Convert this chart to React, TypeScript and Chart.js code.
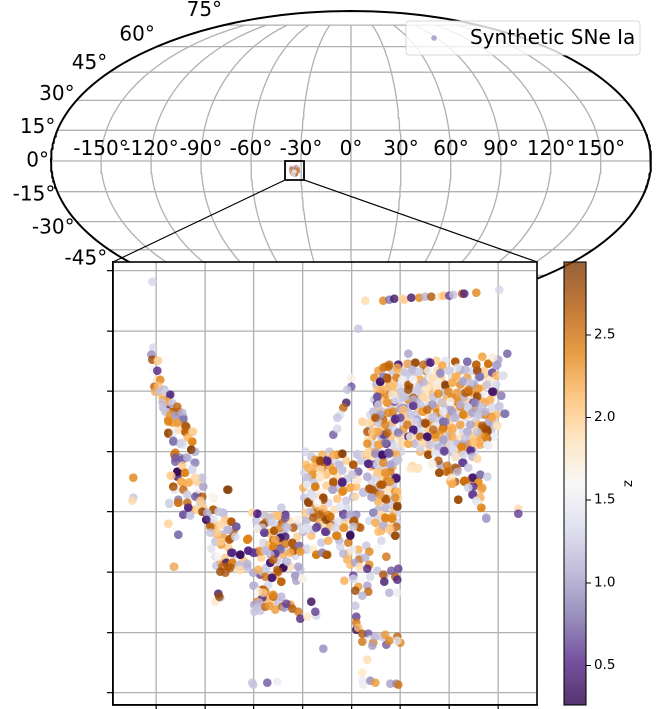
import React, { useEffect, useRef } from "react";
import { Chart, registerables } from "chart.js";
Chart.register(...registerables);

type P = [number, number, number];

const lonTicks = [-150, -120, -90, -60, -30, 0, 30, 60, 90, 120, 150];
const latTicks = [-75, -60, -45, -30, -15, 0, 15, 30, 45, 60, 75];
const zTicks = [0.5, 1.0, 1.5, 2.0, 2.5];
const raTicks = [0, 48.8, 97.6, 146.4, 195.2, 244, 292.8, 341.6];
const decTicks = [0, 60.3, 120.6, 180.9, 241.2, 301.5, 361.8, 422.1];
const puOrStops = ["#2d004b", "#542788", "#8073ac", "#b2abd2", "#d8daeb", "#f7f7f7", "#fee0b6", "#fdb863", "#e08214", "#b35806", "#7f3b08"];
const zRange = [0.262, 2.94];

const blockUnder: P[] = [
[222,322,2.3],[236,322,1.2],[247,322,2.0],[258,322,1.3],[269,322,2.5],[281,322,1.9],[293,322,1.1],[304,322,2.2],[316,322,1.3],[328,322,2.0],
[218,315,2.4],[229,315,1.3],[243,315,1.9],[255,315,1.1],[262,315,2.1],[272,315,1.2],[285,315,2.0],[296,315,1.4],[311,315,2.3],[322,315,1.2],[333,315,2.1],
[220,308,1.1],[233,308,2.2],[241,308,1.3],[250,308,1.9],[263,308,1.2],[274,308,2.0],[284,308,1.3],[293,308,1.8],[304,308,2.4],[318,308,1.1],[330,308,2.0],[340,308,1.3],
[224,300,2.5],[234,300,1.1],[241,300,2.0],[256,300,1.3],[265,300,1.1],[276,300,2.1],[287,300,1.2],[296,300,1.9],[305,300,1.3],[316,300,2.3],[326,300,1.1],[338,300,2.0],
[218,293,1.2],[226,293,2.1],[243,293,1.3],[252,293,2.4],[261,293,1.1],[272,293,1.9],[281,293,1.3],[290,293,2.2],[299,293,1.1],[310,293,2.0],[318,293,1.3],[334,293,2.2],
[222,285,2.2],[235,285,1.2],[242,285,1.9],[252,285,1.1],[261,285,2.1],[270,285,1.3],[279,285,2.3],[289,285,1.2],[298,285,2.0],[306,285,1.1],[318,285,2.4],[336,285,1.3],
[214,278,1.3],[226,278,2.4],[236,278,1.1],[249,278,2.0],[259,278,1.2],[272,278,1.9],[284,278,1.1],[293,278,2.3],[302,278,1.3],[312,278,2.0],[325,278,1.2],[340,278,2.1],
[216,270,2.1],[226,270,1.2],[236,270,2.2],[247,270,1.3],[256,270,2.0],[264,270,1.1],[275,270,2.4],[283,270,1.2],[293,270,1.9],[309,270,1.3],[320,270,2.2],[337,270,1.2],
[213,263,1.1],[225,263,2.0],[238,263,1.3],[247,263,2.3],[262,263,1.2],[272,263,2.0],[282,263,1.1],[292,263,2.1],[304,263,1.3],[316,263,1.9],[325,263,2.4],[335,263,1.2],
[216,256,2.3],[225,256,1.1],[235,256,2.1],[245,256,1.2],[258,256,2.0],[266,256,1.3],[284,256,2.2],[292,256,1.1],[303,256,1.9],[313,256,1.2],[322,256,2.3],[338,256,1.5],
[216,249,1.3],[226,249,2.2],[236,249,1.2],[245,249,1.9],[258,249,1.1],[271,249,2.1],[281,249,1.3],[291,249,2.0],[300,249,1.1],[311,249,2.4],[328,249,1.2],
[214,241,2.1],[222,241,1.2],[238,241,2.3],[245,241,1.3],[273,241,2.0],[296,241,1.1],[305,241,2.2],[318,241,1.3]
];
const centralUnder: P[] = [
[155,236,1.2],[166,238,2.2],[178,232,1.3],[190,232,2.0],[205,232,1.2],[216,235,1.9],[228,236,1.1],[240,238,2.2],
[150,228,2.1],[162,228,1.2],[174,226,2.3],[183,228,1.1],[215,226,2.1],[225,224,1.2],[236,226,2.3],
[148,220,1.3],[158,212,1.2],[170,218,2.1],[181,216,1.9],[191,214,1.2],[215,212,1.3],[226,215,2.0],[237,208,1.2],
[147,205,2.2],[155,200,1.3],[170,207,2.0],[181,205,1.2],[200,206,2.1],[220,205,1.2],[232,203,1.9],[240,194,1.3],
[148,195,1.2],[160,185,2.3],[172,190,1.3],[181,194,2.1],[190,192,1.2],[222,191,2.2],[235,188,1.2],
[149,180,2.0],[161,175,1.2],[178,183,1.9],[190,185,1.3],[222,183,1.1],[238,181,2.1],
[150,172,1.1],[163,170,2.2],[176,170,1.2],[188,171,2.0],[213,172,1.3],[232,170,1.9],
[155,157,2.1],[165,150,1.2],[172,152,2.2],[183,152,1.1],[192,140,2.0],[202,143,2.2],[210,147,1.2],[225,152,1.3],[236,160,1.2]
];
const valleyUnder: P[] = [
[100,172,1.2],[110,176,2.1],[120,168,1.3],[133,172,1.9],[141,168,1.2],[112,160,2.2],[127,160,1.1],[141,156,2.0],
[107,150,1.3],[113,148,2.1],[130,142,1.2],[139,137,1.3],[105,135,2.0],[121,132,1.2],[134,126,1.9],[110,125,1.2],[120,118,2.2],[112,108,1.3],
[52,178,1.3],[57,165,2.2],[66,158,1.1],[72,145,2.0],[78,138,1.2],[87,132,2.1],[64,130,2.3],[60,127,1.2],
[110,95,2.2],[104,82,1.2],[117,91,2.0],[122,90,1.2],[134,88,2.3]
];
const northTail: P[] = [
[-4,411,1.3],[-3,345,1.3],[-5,338,.9],[-4,333,2.8],[1,332,2.3],[2,332,1.9],[-4,323,1.6],[1,322,.5],[1,313,1.8],[4,313,2.4],[-2,306,2.6],[2,307,2.1],[-1,301,2.2],[3,301,1.2],[8,303,1.1],[13,298,.7],[7,293,2.7],[6,296,2.1],[11,291,2.4],[16,290,1.3],[7,285,1.1],[14,284,.4],[16,282,2.5],[10,281,1.2],[21,278,1.0],[22,281,2.7],[27,275,.8],[12,273,2.4],[16,270,2.3],[21,270,2.1],[30,266,2.8],[29,261,2.7],[37,261,1.9],[22,263,1.9],[12,259,2.8],[16,259,1.5],[31,256,2.1],[36,251,2.4],[17,252,.8],[24,249,1.2],[27,248,1.4],[35,243,2.9],[38,241,1.2],[18,238,2.6],[19,236,2.2],[30,235,1.0],[38,230,1.0],[19,231,.7],[24,235,.9],[26,227,1.7],[21,221,.3],[28,220,2.5],[36,225,1.5],[14,217,1.9],[39,215,1.9],[46,215,1.2],[21,216,.4],[25,211,2.2],[-23,215,2.4],[34,211,2.0],[42,210,2.0]
];
const northTailFill: P[] = [
[9,301,1.3],[14,298,.5],[11,291,2.2],[6,290,1.2],[16,289,1.2],[9,281,1.2],[21,286,2.6],[14,278,2.3],[12,271,2.4],[19,277,1.0],[26,280,1.1],[27,273,.8],[29,267,2.7],[29,261,2.6],[21,270,2.3],[36,261,2.0],[12,260,2.8],[17,251,.8],[25,250,1.3],[32,255,2.1],[36,251,2.4],[39,241,1.1],[35,243,2.9],[19,240,2.5],[19,235,.7],[26,233,.7],[31,235,1.1],[39,230,.9],[21,221,.3],[15,217,2.0],[26,227,2.0],[29,220,2.4],[36,223,1.3],[46,215,1.2],[39,215,1.9],[25,211,2.2],[32,210,2.2],[17,206,2.7],[27,203,2.6],[41,203,1.6],[47,206,1.0],[13,190,1.3],[22,190,2.5],[31,198,1.3],[39,196,.7],[44,192,2.0],[56,196,1.6],[72,203,2.9],[31,190,2.6],[32,185,.5],[41,183,1.9],[46,181,2.8],[27,178,.7],[34,177,1.2],[57,183,2.7],[51,180,1.1],[62,181,1.2],[50,173,.4],[12,169,1.9],[22,158,.8],[67,179,1.2],[54,166,2.6],[69,172,2.0],[75,171,2.7],[80,166,.7],[72,163,1.1],[73,153,2.7],[64,168,1.9],[61,160,2.0],[59,151,1.2],[91,153,2.4],[54,160,1.2],[79,156,1.3],[64,151,2.0]
];
const southValley: P[] = [
[-23,195,1.2],[-24,192,1.9],[13,189,1.2],[22,190,2.5],[17,206,2.7],[26,210,2.1],[18,203,1.4],[31,198,1.2],[41,198,.7],[46,196,2.7],[57,195,1.8],[71,203,2.9],[22,193,.8],[27,178,.7],[33,178,1.2],[32,185,.5],[39,183,2.2],[44,190,1.2],[47,185,2.0],[46,181,2.6],[57,183,2.6],[63,181,1.5],[67,180,1.1],[50,173,.3],[54,168,2.6],[59,168,2.1],[52,175,1.3],[57,173,1.4],[69,173,2.0],[75,171,2.7],[65,168,1.9],[80,166,.7],[77,161,2.7],[71,163,1.2],[60,158,2.1],[62,153,2.2],[67,155,2.2],[59,151,1.5],[74,154,2.7],[65,148,2.3],[92,154,2.5],[12,169,2.0],[22,158,.8],[55,144,1.4],[59,136,1.4],[62,136,1.6],[69,135,2.0],[75,140,.4],[84,138,.4],[92,142,.6],[97,140,.5],[70,130,.3],[66,126,2.6],[72,126,2.7],[64,121,2.8],[69,120,2.7],[76,130,2.5],[82,127,1.1],[84,123,2.0],[91,126,1.1],[17,126,1.3],[18,126,2.2]
];
const southBridge: P[] = [
[97,120,1.0],[96,180,1.9],[101,179,.4],[109,170,2.6],[102,164,2.0],[108,160,.7],[107,178,1.2],[114,171,1.1],[117,176,2.1],[122,177,2.0],[129,178,.5],[118,162,2.7],[126,170,2.7],[117,153,2.6],[124,155,.4],[129,156,.4],[122,150,2.4],[136,150,2.8],[143,147,.7],[137,142,2.8],[144,143,2.3],[150,143,1.2],[109,142,.9],[103,142,2.3],[117,145,2.5],[119,139,.5],[124,144,.6],[127,138,2.2],[130,131,1.0],[114,130,.5],[107,121,1.2],[104,118,.6],[127,125,.4],[121,123,2.7],[144,123,1.2],[139,117,1.0],[115,115,.5],[125,111,2.7],[140,112,1.0],[146,114,1.6],[98,107,1.1],[107,103,2.7],[104,100,2.0],[109,101,2.5],[125,96,1.1],[117,96,2.6],[106,95,.5],[101,91,2.4],[98,88,1.0],[103,90,1.1],[101,85,1.2],[98,81,1.2],[109,86,2.6],[113,87,2.3],[119,83,2.3],[126,86,2.6],[128,85,1.0],[130,89,.6],[136,84,2.7],[142,81,2.5],[144,74,.5],[151,76,1.8],[160,77,1.3],[155,91,.3],[159,81,.6],[59,91,1.8],[64,95,1.2],[62,99,.4],[63,96,2.8],[167,44,.9],[96,10,1.2],[97,8,1.2],[111,10,.7],[121,11,1.5]
];
const bridgeFill: P[] = [
[96,180,1.9],[101,179,.5],[107,168,2.8],[106,165,1.2],[101,164,1.5],[108,160,.6],[114,175,1.2],[116,170,1.3],[122,177,2.1],[125,185,1.2],[129,175,.7],[142,173,1.7],[118,162,2.7],[124,165,2.4],[129,166,1.1],[137,165,2.7],[131,165,1.2],[147,161,1.1],[150,165,1.3],[91,153,2.4],[124,155,.4],[119,153,2.2],[117,146,2.4],[129,149,2.5],[136,149,2.7],[142,146,.8],[137,142,2.7],[150,144,1.3],[124,143,.8],[119,139,.6],[76,140,.5],[84,138,.3],[92,142,.5],[99,140,.6],[104,141,2.3],[109,142,1.2],[114,138,1.1],[134,140,2.2],[144,141,2.3],[157,143,1.8],[160,138,2.5],[166,140,.9],[170,138,2.7],[76,130,2.4],[74,125,2.7],[83,128,1.2],[83,123,1.9],[91,129,1.1],[97,120,1.1],[106,121,1.3],[114,130,.4],[117,133,2.6],[109,116,2.5],[116,115,.4],[127,125,.3],[131,131,1.2],[122,121,2.7],[139,117,1.0],[142,126,1.0],[146,114,1.7],[102,123,2.2],[125,111,2.6],[97,107,1.1],[106,103,2.6],[102,101,1.6],[117,98,2.4],[107,100,2.0]
];
const centralWest: P[] = [
[151,210,1.2],[159,206,2.7],[164,200,1.7],[152,191,2.7],[157,180,2.6],[166,180,2.8],[161,166,.7],[170,161,.6],[147,163,1.3],[157,163,1.2],[152,145,1.6],[160,138,2.4],[166,140,.9],[171,138,2.7],[154,190,2.5],[167,193,2.8],[171,178,2.4],[162,196,1.8],[174,166,2.0],[149,241,1.3],[161,232,2.5],[164,232,2.8],[171,233,.5],[156,218,2.4],[152,215,1.2],[164,216,1.9],[159,225,2.4],[152,225,2.2],[166,225,2.5],[173,241,1.2],[174,236,1.9],[177,222,2.4],[186,222,1.2],[195,220,1.7],[202,221,.7],[211,216,1.1],[171,231,.5],[166,231,2.6],[186,211,.4],[177,211,2.6],[201,213,2.0],[186,210,.5],[194,205,2.2],[186,201,2.4],[177,203,1.1],[207,200,1.1],[213,204,2.8],[225,208,2.7],[232,211,.8],[239,201,2.4],[224,200,1.2],[229,194,2.7],[215,196,1.0],[197,196,1.1],[167,195,2.7]
];
const centralFill: P[] = [
[159,233,2.3],[164,232,2.8],[171,232,.5],[177,238,2.2],[186,239,2.9],[197,228,2.7],[201,238,1.2],[211,240,1.9],[219,239,.9],[226,238,.4],[232,240,.7],[239,231,1.1],[212,229,.5],[221,228,1.3],[227,230,2.4],[234,228,1.0],[242,233,1.2],[157,226,2.1],[156,218,2.3],[164,223,1.9],[151,215,1.2],[177,222,2.3],[186,223,1.2],[201,213,1.7],[196,218,1.2],[211,216,1.1],[221,220,2.0],[229,220,2.3],[240,214,.4],[234,211,2.3],[226,208,2.7],[151,208,1.5],[159,206,2.4],[164,215,1.8],[177,210,2.7],[186,210,.5],[176,203,1.0],[187,202,2.4],[194,205,2.2],[207,201,1.2],[213,204,2.7],[219,200,2.7],[216,195,1.1],[241,201,2.1],[224,198,2.3],[199,196,1.9],[167,195,2.8],[152,190,2.9],[157,196,1.4],[161,190,1.6],[230,193,2.7],[239,195,2.4],[184,186,1.5],[187,178,.7],[167,184,2.1],[154,181,1.2],[157,175,2.7],[170,173,2.9],[164,178,2.6],[174,176,2.5],[194,178,1.1],[198,172,2.7],[217,180,.9],[221,173,1.3],[229,175,2.4],[236,174,2.4],[241,186,2.9],[229,185,1.1],[160,165,.6],[169,161,.6],[179,165,1.3],[188,165,2.3],[194,157,.3],[181,157,2.4],[204,165,2.7],[197,166,1.2],[227,167,1.1],[219,170,2.2],[233,163,2.0],[239,157,2.8],[222,161,2.1],[151,165,1.4],[146,163,1.4]
];
const centralEast: P[] = [
[184,186,1.3],[167,185,1.7],[174,176,2.5],[187,179,.5],[194,178,1.0],[200,178,.9],[217,180,.8],[226,178,1.9],[229,174,2.3],[236,174,2.4],[221,169,2.0],[227,167,1.1],[241,170,1.3],[240,166,2.6],[225,162,2.2],[234,164,2.2],[239,157,2.8],[169,173,2.7],[167,168,1.9],[174,168,2.6],[169,161,.6],[180,157,2.6],[187,165,2.4],[194,158,.4],[197,171,2.7],[202,166,2.4],[182,171,1.4],[189,176,1.2],[184,146,1.3],[192,150,2.5],[196,143,1.5],[187,139,1.1],[170,138,2.6],[221,144,1.6],[213,141,2.4],[203,136,1.3],[230,136,2.5],[191,133,2.2],[203,133,2.5],[209,135,1.1],[194,128,2.1],[199,130,1.0],[213,128,2.4],[203,126,1.9],[211,124,.5],[197,117,.6],[221,122,1.2],[229,118,1.2],[235,122,.7],[242,124,.6],[227,118,2.7],[239,116,2.7],[241,113,.5],[228,111,.4],[188,112,2.2],[205,115,1.6],[214,116,1.3],[197,114,1.3],[202,106,2.3],[211,107,1.0],[199,102,2.8],[212,101,2.6],[206,97,1.1],[233,100,1.1],[241,100,1.5],[199,87,1.2],[200,76,.6],[200,70,2.5],[200,63,.3],[202,65,2.1],[206,59,2.7],[206,51,2.5],[212,59,.7],[214,53,1.5],[217,50,2.4],[216,47,1.0],[219,56,1.1],[226,56,1.2],[229,58,2.3],[230,48,.7],[233,52,2.4],[241,56,2.6],[244,50,2.4],[241,52,1.4],[211,33,1.9],[206,20,1.8],[206,12,1.5],[207,8,1.5],[214,12,.9],[219,10,2.3],[234,9,1.0],[240,9,.9],[242,8,2.5]
];
const northStripe: P[] = [
[209,392,1.9],[227,392,2.4],[233,393,.8],[238,394,.4],[246,394,1.9],[248,393,2.0],[255,395,.4],[263,395,2.4],[269,396,1.1],[275,396,2.7],[283,396,1.8],[287,397,2.1],[293,397,.6],[297,398,1.2],[306,399,2.7],[308,399,.5],[320,400,2.4],[343,403,1.3],[202,364,1.2]
];
const blockTop: P[] = [
[252,339,1.0],[351,339,.7],[326,336,2.2],[336,335,1.7],[342,333,1.0],[332,329,2.6],[340,327,1.0],[227,325,2.5],[232,326,2.6],[242,328,.5],[252,329,1.0],[259,330,2.8],[272,331,1.0],[274,330,.4],[280,332,2.0],[289,332,1.4],[299,331,2.7],[311,331,.7],[320,328,2.6],[286,327,2.1],[267,328,2.6],[247,321,1.3],[241,323,2.1],[262,321,1.2],[284,319,1.0],[304,323,1.1],[321,322,.6],[336,320,.7],[347,317,1.3],[340,317,2.2],[323,316,.8],[334,313,1.7],[195,315,1.7],[227,316,.4],[231,314,2.7],[240,315,2.5],[246,312,1.6],[253,316,1.3],[264,313,2.2],[274,315,1.7],[299,316,2.1],[307,312,1.2],[224,311,.3],[253,307,2.8],[279,310,1.7],[289,307,2.9],[296,310,2.2],[316,308,1.0],[325,304,2.1],[195,306,.7],[191,303,1.2],[336,301,.3],[345,297,.9],[221,303,2.1],[236,305,2.1],[244,305,1.4],[261,303,1.6],[271,305,1.8],[281,301,1.8],[289,301,1.2],[301,300,2.3],[312,301,2.7],[321,297,2.7],[327,298,1.6]
];
const blockTopFill: P[] = [
[229,326,2.5],[233,328,2.6],[242,328,.5],[251,329,2.2],[259,330,2.8],[274,330,.5],[286,327,2.2],[299,331,2.7],[311,331,.8],[320,328,2.6],[332,329,2.5],[326,336,2.2],[337,335,1.7],[341,328,1.0],
[227,316,1.0],[241,325,2.2],[249,320,1.2],[256,323,1.1],[263,321,1.3],[272,322,1.5],[284,320,.9],[292,322,1.3],[301,325,1.4],[309,323,1.1],[321,322,2.7],[324,316,.8],[336,320,.7],[340,317,2.1],[346,317,1.4],
[224,311,.4],[231,315,2.7],[237,308,2.1],[246,313,1.5],[252,308,2.7],[257,313,1.6],[267,310,1.1],[277,315,1.9],[282,310,1.7],[289,308,2.9],[300,316,2.2],[296,310,2.2],[307,311,1.0],[314,310,1.2],[322,304,2.3],[331,308,1.2],[337,301,.4],
[221,296,.7],[227,303,2.2],[236,298,1.8],[245,301,1.2],[252,303,2.8],[261,303,1.2],[269,303,1.8],[281,305,1.8],[282,299,2.4],[292,301,2.4],[301,293,2.3],[309,300,2.7],[312,303,2.5],[321,296,2.8],[345,297,.9],[329,290,2.2],[319,290,.9],[343,286,1.2],[348,279,.8]
];
const blockMiddle: P[] = [
[221,296,.6],[230,298,2.4],[238,291,.7],[249,296,1.2],[257,295,2.7],[267,296,2.0],[277,296,1.2],[296,295,2.4],[307,295,1.1],[317,290,.6],[327,291,2.2],[343,287,1.3],[190,290,.4],[187,285,2.6],[221,289,.4],[231,290,2.3],[247,285,.9],[257,287,.6],[264,288,1.2],[276,288,1.0],[286,290,2.5],[301,291,2.5],[311,286,1.2],[322,284,1.1],[349,279,.8],[184,278,1.4],[217,281,1.2],[227,281,1.2],[237,281,2.4],[244,284,1.0],[267,281,2.2],[281,280,2.4],[294,283,1.0],[304,286,2.4],[307,278,2.4],[329,278,2.4],[335,276,2.4],[206,271,2.0],[212,270,1.9],[220,275,2.7],[227,273,2.6],[239,274,.5],[250,275,2.0],[261,273,1.0],[276,275,1.2],[287,271,.7],[297,275,1.2],[319,275,1.3],[332,270,1.0],[341,267,2.0],[181,275,1.2],[177,258,.7],[181,264,1.3],[211,261,2.7],[222,270,1.2],[232,266,1.2],[242,260,.7],[257,263,.4],[269,270,2.7],[279,264,1.4],[287,265,2.7],[296,265,2.2],[307,268,1.6],[311,261,1.1],[327,265,2.8],[331,262,2.7]
];
const blockMiddleFill: P[] = [
[222,288,1.3],[231,290,2.3],[239,293,1.4],[247,295,1.2],[257,293,1.1],[257,287,.6],[267,296,1.9],[276,288,1.0],[286,290,1.3],[294,291,1.6],[304,288,1.1],[312,285,1.3],[326,286,1.2],[329,281,1.1],
[217,281,1.2],[224,278,1.0],[232,280,2.4],[239,273,.5],[247,283,2.1],[254,278,1.2],[266,281,2.3],[271,283,2.6],[277,276,1.2],[287,281,1.5],[296,281,1.0],[307,278,2.4],[316,280,1.0],[322,278,1.2],[336,275,2.2],
[219,275,2.7],[229,268,2.4],[244,275,.6],[251,268,2.5],[259,271,1.3],[269,269,2.8],[279,267,1.5],[289,271,.8],[299,275,1.1],[304,268,2.3],[314,268,1.0],[326,267,2.7],[331,263,2.8],[341,267,1.8],[321,261,1.2],
[216,261,2.0],[222,261,2.2],[231,260,2.6],[242,260,.9],[257,263,.5],[271,256,.4],[286,263,2.4],[296,263,2.2],[311,261,1.1],[329,256,2.4],[254,256,1.7],[277,263,2.6]
];
const blockLower: P[] = [
[212,254,1.9],[229,258,.7],[221,260,1.1],[252,256,.4],[264,261,1.4],[271,255,.5],[279,255,2.2],[287,251,1.1],[299,260,1.6],[317,256,2.0],[331,254,2.7],[321,248,1.9],[307,249,1.0],[211,249,2.4],[222,248,2.4],[230,249,.4],[252,249,2.2],[266,250,1.9],[306,245,2.4],[315,243,.7],[323,250,2.2],[332,247,1.5],[201,239,1.3],[210,238,2.1],[219,241,1.0],[226,237,.4],[233,239,.7],[272,238,2.7],[281,241,1.2],[288,241,.8],[299,236,1.2],[321,234,1.9],[186,239,2.8],[181,238,2.4],[197,228,2.7],[212,229,.5],[222,231,1.2],[237,230,1.3],[264,241,2.2],[284,228,1.0],[307,230,.6],[256,226,1.9],[261,224,1.9],[276,229,2.1],[222,220,2.1],[229,220,2.4],[240,215,.4],[283,220,2.7],[290,221,2.6],[301,223,2.5],[317,215,.4],[324,218,.8],[308,212,2.5],[299,211,2.7],[312,210,2.4],[322,211,2.5],[331,216,1.2],[294,211,2.2],[296,209,2.2],[308,211,2.7],[322,210,2.4],[325,203,2.2],[312,205,1.3],[317,198,.5],[302,193,2.7],[320,192,1.5],[325,185,2.3],[330,174,1.0],[362,184,1.9],[362,179,.6],[241,186,2.8],[241,180,1.3]
];
const blockLowerFill: P[] = [
[219,261,2.3],[227,258,.6],[222,248,2.2],[229,250,.8],[218,240,2.1],[226,238,.4],[232,240,.8],[239,246,1.4],[244,255,1.9],[252,249,2.2],[257,262,.5],[264,256,2.6],[271,256,.4],[267,250,1.9],[274,248,1.2],[264,244,1.3],[279,258,2.4],[287,253,1.0],[296,256,2.2],[282,245,1.1],[288,242,.6],[272,238,2.8],[279,239,1.5],[294,248,1.3],[305,246,2.4],[297,243,1.4],[314,242,.5],[309,255,1.2],[324,248,2.2],[331,261,2.9],[331,248,1.5],[317,250,2.1],
[307,238,1.3],[316,236,1.1],[321,234,1.9],[299,236,1.8],[282,232,2.7],[276,229,1.6],[291,227,2.5],[256,227,1.9],[254,224,1.8],[262,225,1.8],[306,230,.6],[299,225,2.8],[293,221,2.6],[283,220,2.8],[301,221,1.1],[312,225,1.2],[324,218,.8],[331,216,1.3],[316,215,.4],[309,212,2.5],[295,215,1.8],[296,209,2.2],[322,210,2.3],[326,205,2.3],[317,206,.5],[312,205,1.3],[316,198,.6],[324,195,2.2],[302,193,2.8],[320,192,1.4],[322,189,1.5],[325,185,2.4],[330,175,1.0],
[217,228,.7],[222,221,2.1],[229,226,1.3],[234,221,2.5],[239,215,.6],[224,208,2.6],[231,213,2.4],[216,203,2.7],[219,215,1.3],[239,201,2.3],[224,200,1.2],[230,194,2.7],[216,196,.9],[236,195,1.3],[241,187,2.7],[229,186,1.8],[236,176,2.3],[217,180,1.0],[224,178,1.9],[229,175,2.4],[242,195,1.9]
];

const allPoints: P[] = [...blockUnder, ...centralUnder, ...valleyUnder, ...blockTop, ...blockLower, ...centralEast, ...northTail, ...southBridge, ...blockMiddle, ...southValley, ...centralWest, ...northStripe, ...blockTopFill, ...northTailFill, ...blockLowerFill, ...bridgeFill, ...blockMiddleFill, ...centralFill];

// Scale of the sky map, in Mollweide units
const SQ2 = Math.SQRT2;
const skyXRange = [-3.3092, 3.0076];
const skyYRange = [-5.1664, 1.5179];
const blobCentre = [-0.53, -0.093];
const blobFactor = 0.000165;
const blobMiddle = [190, 210];
const zoomBox = { x0: -0.622, x1: -0.443, y0: -0.179, y1: 0 };
const insetEdges = { left: -2.244, right: 1.754, top: -0.952 };

function theta(latDeg: number) {
  const phi = (latDeg * Math.PI) / 180;
  if (Math.abs(latDeg) === 90) return phi;
  let t = phi;
  for (let i = 0; i < 60; i++) {
    t -= (2 * t + Math.sin(2 * t) - Math.PI * Math.sin(phi)) / (2 + 2 * Math.cos(2 * t));
  }
  return t;
}
function project(lonDeg: number, latDeg: number) {
  const t = theta(latDeg);
  return { x: ((2 * SQ2) / 180) * lonDeg * Math.cos(t), y: SQ2 * Math.sin(t) };
}
function puOr(z: number, alpha = 0.8) {
  const f = Math.max(0, Math.min(1, (z - zRange[0]) / (zRange[1] - zRange[0]))) * (puOrStops.length - 1);
  const i = Math.min(puOrStops.length - 2, Math.floor(f));
  const hex = (s: string, k: number) => parseInt(s.slice(1 + 2 * k, 3 + 2 * k), 16);
  const c = [0, 1, 2].map((k) => Math.round(hex(puOrStops[i], k) + (hex(puOrStops[i + 1], k) - hex(puOrStops[i], k)) * (f - i)));
  return `rgba(${c[0]},${c[1]},${c[2]},${alpha})`;
}
function steps(a: number, b: number, d: number) {
  const r: number[] = [];
  for (let v = a; v <= b; v += d) r.push(v);
  return r;
}
const FONT = "'DejaVu Sans'";
const GRID = "#b0b0b0";

function skyConfig(): any {
  const line = (data: any[], color: string, width: number, order: number) => ({
    data, showLine: true, borderColor: color, borderWidth: width, pointRadius: 0, order, tension: 0, fill: false,
  });
  const datasets: any[] = [];
  latTicks.forEach((lat) => datasets.push(line([project(-180, lat), project(180, lat)], GRID, 1.3, 6)));
  lonTicks.forEach((lon) => datasets.push(line(steps(-75, 75, 3).map((l) => project(lon, l)), GRID, 1.3, 6)));
  datasets.push(line(steps(-90, 90, 1).map((l) => project(-180, l)).concat(steps(-90, 90, 1).reverse().map((l) => project(180, l))), "#000", 2, 5));
  datasets.push({
    data: allPoints.map((p) => ({ x: blobCentre[0] + (p[0] - blobMiddle[0]) * blobFactor, y: blobCentre[1] + (p[1] - blobMiddle[1]) * blobFactor })),
    pointBackgroundColor: allPoints.map((p) => puOr(p[2])), pointBorderWidth: 0, pointRadius: 2.2, showLine: false, order: 4,
  });
  const b = zoomBox;
  datasets.push(line([{ x: b.x0, y: b.y0 }, { x: b.x1, y: b.y0 }, { x: b.x1, y: b.y1 }, { x: b.x0, y: b.y1 }, { x: b.x0, y: b.y0 }], "#000", 1.8, 3));
  datasets.push(line([{ x: b.x0, y: b.y0 }, { x: insetEdges.left, y: insetEdges.top }], "#000", 1.2, 2));
  datasets.push(line([{ x: b.x1, y: b.y0 }, { x: insetEdges.right, y: insetEdges.top }], "#000", 1.2, 2));
  const labels = {
    id: "skyLabels",
    afterDraw(chart: any) {
      const { ctx, scales } = chart;
      ctx.save();
      ctx.fillStyle = "#000";
      ctx.font = `20px ${FONT}`;
      ctx.textAlign = "center";
      ctx.textBaseline = "bottom";
      lonTicks.forEach((lon) => {
        const p = project(lon, 0);
        ctx.fillText(`${lon}°`, scales.x.getPixelForValue(p.x), scales.y.getPixelForValue(0) - 1);
      });
      ctx.textAlign = "right";
      ctx.textBaseline = "middle";
      latTicks.forEach((lat) => {
        const p = project(-180, lat);
        ctx.fillText(`${lat}°`, scales.x.getPixelForValue(p.x) - 2, scales.y.getPixelForValue(p.y) + 0.5 - 0.2 * lat);
      });
      // legend
      const lx = 406, ly = 21, lw = 234, lh = 34;
      ctx.beginPath();
      ctx.roundRect(lx, ly, lw, lh, 3);
      ctx.fillStyle = "rgba(255,255,255,0.8)";
      ctx.fill();
      ctx.strokeStyle = "rgba(204,204,204,0.8)";
      ctx.lineWidth = 1;
      ctx.stroke();
      ctx.beginPath();
      ctx.arc(434, 38, 2.8, 0, Math.PI * 2);
      ctx.fillStyle = puOr(0.95);
      ctx.fill();
      ctx.fillStyle = "#000";
      ctx.textAlign = "left";
      ctx.textBaseline = "middle";
      ctx.fillText("Synthetic SNe Ia", 470, 39);
      ctx.restore();
    },
  };
  const hiddenAxis = (range: number[]) => ({
    type: "linear", display: false, bounds: "data", min: range[0], max: range[1],
    afterBuildTicks(s: any) { s.ticks = range.map((value) => ({ value })); },
  });
  return {
    type: "scatter",
    data: { datasets },
    options: {
      animation: false, responsive: false, events: [], devicePixelRatio: 2,
      layout: { padding: 0, autoPadding: false },
      plugins: { legend: { display: false }, tooltip: { enabled: false } },
      scales: { x: hiddenAxis(skyXRange), y: hiddenAxis(skyYRange) },
    },
    plugins: [labels],
  };
}

function insetConfig(): any {
  const frame = {
    id: "insetFrame",
    beforeDraw(chart: any) {
      const a = chart.chartArea;
      chart.ctx.save();
      chart.ctx.fillStyle = "#fff";
      chart.ctx.fillRect(a.left, a.top, a.width, a.height);
      chart.ctx.restore();
    },
    afterDraw(chart: any) {
      const a = chart.chartArea;
      chart.ctx.save();
      chart.ctx.strokeStyle = "#000";
      chart.ctx.lineWidth = 1.6;
      chart.ctx.strokeRect(a.left, a.top, a.width, a.height);
      chart.ctx.restore();
    },
  };
  const axis = (ticks: number[], range: number[], fit: any) => ({
    type: "linear", min: range[0], max: range[1],
    afterBuildTicks(s: any) { s.ticks = ticks.map((value) => ({ value })); },
    afterFit: fit,
    ticks: { display: false },
    grid: { color: GRID, lineWidth: 1.3, tickLength: 6, tickColor: "#000", tickWidth: 1.2 },
    border: { color: "#000", width: 1.6 },
  });
  return {
    type: "scatter",
    data: {
      datasets: [{
        data: allPoints.map((p) => ({ x: p[0], y: p[1] })),
        pointBackgroundColor: allPoints.map((p) => puOr(p[2])),
        pointBorderWidth: 0, pointRadius: 4.3, showLine: false,
      }],
    },
    options: {
      animation: false, responsive: false, events: [], devicePixelRatio: 2,
      layout: { padding: { left: 107, top: 262, right: 133, bottom: 0 }, autoPadding: false },
      plugins: { legend: { display: false }, tooltip: { enabled: false } },
      scales: {
        x: axis(raTicks, [-43.3, 380.7], (s: any) => { s.height = 4; }),
        y: axis(decTicks, [-12.3, 430.7], (s: any) => { s.width = 6; }),
      },
    },
    plugins: [frame],
  };
}

function colorbarConfig(): any {
  const frame = {
    id: "cbFrame",
    afterDraw(chart: any) {
      const a = chart.chartArea;
      chart.ctx.save();
      chart.ctx.strokeStyle = "rgba(0,0,0,0.8)";
      chart.ctx.lineWidth = 1.3;
      chart.ctx.strokeRect(a.left, a.top, a.width, a.height);
      chart.ctx.restore();
    },
  };
  return {
    type: "bar",
    data: {
      labels: ["z"],
      datasets: [{
        data: [zRange],
        barPercentage: 1, categoryPercentage: 1, borderWidth: 0,
        backgroundColor: (c: any) => {
          const { chart } = c;
          if (!chart.chartArea) return "#888";
          const g = chart.ctx.createLinearGradient(0, chart.chartArea.bottom, 0, chart.chartArea.top);
          puOrStops.forEach((s, i) => {
            const z = zRange[0] + ((zRange[1] - zRange[0]) * i) / (puOrStops.length - 1);
            g.addColorStop(i / (puOrStops.length - 1), puOr(z));
          });
          return g;
        },
      }],
    },
    options: {
      animation: false, responsive: false, events: [], devicePixelRatio: 2,
      layout: { padding: { left: 564, top: 262, right: 34, bottom: 4 }, autoPadding: false },
      plugins: { legend: { display: false }, tooltip: { enabled: false } },
      scales: {
        x: { display: false },
        y: {
          position: "right", min: zRange[0], max: zRange[1],
          afterBuildTicks(s: any) { s.ticks = zTicks.map((value) => ({ value })); },
          afterFit(s: any) { s.width = 50; s.paddingTop = 0; s.paddingBottom = 0; },
          ticks: { color: "#000", font: { family: FONT, size: 13.5 }, padding: 3, callback: (v: number) => v.toFixed(1) },
          grid: { drawOnChartArea: false, tickLength: 5, tickColor: "#000", tickWidth: 1 },
          border: { display: false },
          title: { display: true, text: "z", color: "#000", font: { family: FONT, size: 13.5 }, padding: { top: 0, bottom: 14 } },
        },
      },
    },
    plugins: [frame],
  };
}

function ChartCanvas({ config }: { config: () => any }) {
  const ref = useRef<HTMLCanvasElement>(null);
  useEffect(() => {
    const chart = new Chart(ref.current as HTMLCanvasElement, config());
    return () => chart.destroy();
  }, [config]);
  return <canvas ref={ref} width={670} height={709} style={{ position: "absolute", left: 0, top: 0, width: 670, height: 709 }} />;
}

export default function App() {
  return (
    <div style={{ position: "absolute", left: 0, top: 0, width: 670, height: 709, overflow: "hidden", background: "#fff" }}>
      <ChartCanvas config={skyConfig} />
      <ChartCanvas config={insetConfig} />
      <ChartCanvas config={colorbarConfig} />
    </div>
  );
}
